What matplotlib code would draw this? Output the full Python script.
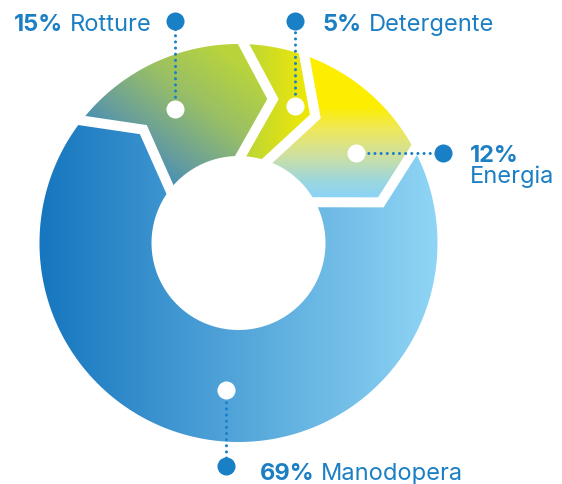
import numpy as np
import matplotlib
matplotlib.use("Agg")
import matplotlib.pyplot as plt
from matplotlib.patches import Polygon
from matplotlib.colors import to_rgb

# ---- data ----
categories = ["Rotture", "Detergente", "Energia", "Manodopera"]
shares = [15, 5, 12, 69]
pct_labels = ["15%", "5%", "12%", "69%"]

# ---- layout / style ----
W, H = 562, 484
BLUE = "#1a80c5"
TXT = "#1b7fc4"
FONT = "Inter"
FS = 17
CX, CY = 238.5, 243.0
R_OUT, R_IN, R_TIP = 199.0, 87.0, 148.0
TIP = np.radians(12)          # chevron tip offset, clockwise
START = np.radians(142)       # first slice starts here, slices go clockwise
GAP = 7.2                     # white separator width (pt)
LABEL_SHIFT = np.radians([0, 12, 12, 0])


def pt(theta, r):
    return np.array([CX + r * np.cos(theta), CY - r * np.sin(theta)])


def ramp(t, stops):
    pos = [p for p, _ in stops]
    cols = np.array([to_rgb(c) for _, c in stops])
    return np.stack([np.interp(t, pos, cols[:, k]) for k in range(3)], axis=-1)


xx, yy = np.meshgrid(np.arange(W) + 0.5, np.arange(H) + 0.5)


def fill_for(i, box):
    x0, y0, x1, y1 = box
    u = (xx - x0) / (x1 - x0)
    v = (yy - y0) / (y1 - y0)
    if i == 0:   # diagonal blue -> lime
        return ramp((u - v + 1) / 2, [(0.15, "#2a84c6"), (0.35, "#659c9f"),
                                      (0.6, "#98bf66"), (0.85, "#b9d43b")])
    if i == 1:   # lime -> yellow
        return ramp(u, [(0.0, "#b8d43a"), (1.0, "#f5ea00")])
    if i == 2:   # yellow -> light blue, top to bottom
        return ramp(v, [(0.35, "#fdee00"), (0.5, "#efe85a"), (0.68, "#cfe0a0"),
                        (0.85, "#9dd7dc"), (0.95, "#8dd4f4")])
    return ramp(u, [(0.0, "#1676be"), (1.0, "#90d5f5")])


fig = plt.figure(figsize=(W / 100, H / 100), dpi=100)
ax = fig.add_axes([0, 0, 1, 1])

frac = np.array(shares, dtype=float) / sum(shares)
edges = START - np.concatenate([[0], np.cumsum(frac)]) * 2 * np.pi

for i in range(len(shares)):
    a, b = edges[i], edges[i + 1]
    pts = [pt(t, R_OUT) for t in np.linspace(a, b, 240)]
    pts.append(pt(b - TIP, R_TIP))
    pts += [pt(t, R_IN) for t in np.linspace(b, a, 120)]
    pts.append(pt(a - TIP, R_TIP))
    pts = np.array(pts)
    box = (pts[:, 0].min(), pts[:, 1].min(), pts[:, 0].max(), pts[:, 1].max())
    patch = Polygon(pts, closed=True, transform=ax.transData)
    im = ax.imshow(fill_for(i, box), extent=(0, W, H, 0), interpolation="bilinear", zorder=1)
    im.set_clip_path(patch)

# white chevron separators
for e in edges[:-1]:
    p_out, p_tip, p_in = pt(e, R_OUT), pt(e - TIP, R_TIP), pt(e, R_IN)
    d1 = (p_out - p_tip) / np.linalg.norm(p_out - p_tip)
    d2 = (p_in - p_tip) / np.linalg.norm(p_in - p_tip)
    line = np.array([p_out + d1 * 10, p_tip, p_in + d2 * 10])
    ax.plot(line[:, 0], line[:, 1], color="white", lw=GAP,
            solid_joinstyle="miter", solid_capstyle="butt", zorder=2)


# ---- labels ----
def leader(p0, p1):
    ax.plot([p0[0], p1[0]], [p0[1], p1[1]], color=BLUE, lw=2.2,
            linestyle=(0, (0.01, 2.0)), dash_capstyle="round", zorder=3)
    ax.plot(*p0, "o", ms=13, color="white", mec="none", zorder=4)
    ax.plot(*p1, "o", ms=13, color=BLUE, mec="none", zorder=4)


def two_part(x, y, bold, reg, right=False):
    kw = dict(fontsize=FS, color=TXT, family=FONT)
    if right:
        t = ax.text(x, y, reg, ha="right", va="baseline", **kw)
        ax.annotate(bold, xy=(0, 0), xycoords=t, xytext=(-5, 0), textcoords="offset points",
                    ha="right", va="bottom", fontweight="bold", **kw)
    else:
        t = ax.text(x, y, bold, ha="left", va="baseline", fontweight="bold", **kw)
        ax.annotate(reg, xy=(1, 0), xycoords=t, xytext=(5, 0), textcoords="offset points",
                    ha="left", va="bottom", **kw)


mids = (edges[:-1] + edges[1:]) / 2 - LABEL_SHIFT
for i, name in enumerate(categories):
    w = pt(mids[i], R_TIP)
    if name == "Rotture":
        b = (w[0], 21)
        leader(w, b)
        two_part(b[0] - 24, 31, pct_labels[i], name, right=True)
    elif name == "Detergente":
        b = (w[0], 21)
        leader(w, b)
        two_part(b[0] + 28, 31, pct_labels[i], name)
    elif name == "Energia":
        b = (443, w[1])
        leader(w, b)
        ax.text(470, w[1] + 9, pct_labels[i], fontsize=FS, color=TXT, family=FONT,
                fontweight="bold", va="baseline")
        ax.text(470, w[1] + 30, name, fontsize=FS, color=TXT, family=FONT, va="baseline")
    else:
        b = (w[0], 466)
        leader(w, b)
        two_part(b[0] + 34, 480, pct_labels[i], name)

ax.set_xlim(0, W)
ax.set_ylim(H, 0)
ax.axis("off")
fig.savefig("out.png", dpi=100)
